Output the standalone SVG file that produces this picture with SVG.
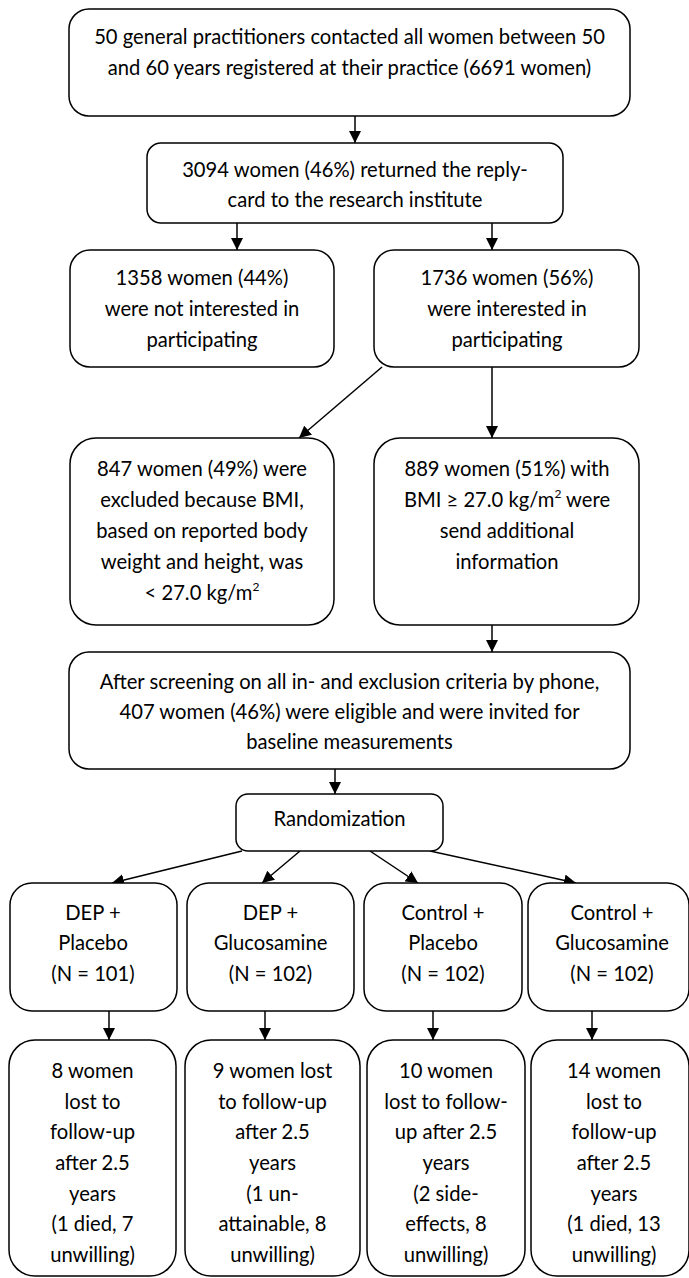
<svg xmlns="http://www.w3.org/2000/svg" width="689" height="1278" viewBox="0 0 689 1278">
<style>
.box{fill:#fff;stroke:#000;stroke-width:1.5}
.t{font-family:Lato,"Open Sans","Liberation Sans",sans-serif;font-size:20.2px;fill:#000;text-anchor:middle}
.c{stroke:#000;stroke-width:1.5;fill:none;marker-end:url(#ah)}
</style>
<defs>
<marker id="ah" markerUnits="userSpaceOnUse" markerWidth="12" markerHeight="12" refX="12" refY="6" orient="auto">
<path d="M0,0 L12,6 L0,12 z" fill="#000"/>
</marker>
</defs>
<rect width="689" height="1278" fill="#fff"/>
<g id="connectors">
<line class="c" x1="355" y1="116" x2="355" y2="143"/>
<line class="c" x1="237" y1="223" x2="237" y2="250"/>
<line class="c" x1="492" y1="223" x2="492" y2="250"/>
<line class="c" x1="382" y1="367" x2="299" y2="438"/>
<line class="c" x1="492" y1="367" x2="492" y2="438"/>
<line class="c" x1="492" y1="625" x2="492" y2="652"/>
<line class="c" x1="335" y1="769" x2="335" y2="794"/>
<line class="c" x1="242" y1="851" x2="112" y2="883"/>
<line class="c" x1="300" y1="851" x2="262" y2="883"/>
<line class="c" x1="370" y1="851" x2="418" y2="883"/>
<line class="c" x1="430" y1="851" x2="576" y2="883"/>
<line class="c" x1="109" y1="1011" x2="109" y2="1040"/>
<line class="c" x1="265" y1="1011" x2="265" y2="1040"/>
<line class="c" x1="433" y1="1011" x2="433" y2="1040"/>
<line class="c" x1="592" y1="1011" x2="592" y2="1040"/>
</g>
<g id="n1"><rect class="box" x="69" y="9" width="561" height="107" rx="20"/>
<text class="t" x="349.5" y="44">50 general practitioners contacted all women between 50</text>
<text class="t" x="349.5" y="75">and 60 years registered at their practice (6691 women)</text></g>
<g id="n2"><rect class="box" x="147" y="143" width="416" height="80" rx="14"/>
<text class="t" x="355" y="177">3094 women (46%) returned the reply-</text>
<text class="t" x="355" y="207">card to the research institute</text></g>
<g id="n3"><rect class="box" x="70" y="250" width="264" height="117" rx="20"/>
<text class="t" x="202" y="285">1358 women (44%)</text>
<text class="t" x="202" y="316">were not interested in</text>
<text class="t" x="202" y="347">participating</text></g>
<g id="n4"><rect class="box" x="374" y="250" width="265" height="117" rx="20"/>
<text class="t" x="507" y="285">1736 women (56%)</text>
<text class="t" x="507" y="316">were interested in</text>
<text class="t" x="507" y="347">participating</text></g>
<g id="n5"><rect class="box" x="70" y="438" width="264" height="187" rx="26"/>
<text class="t" x="202" y="476">847 women (49%) were</text>
<text class="t" x="202" y="507">excluded because BMI,</text>
<text class="t" x="202" y="538">based on reported body</text>
<text class="t" x="202" y="569">weight and height, was</text>
<text class="t" x="202" y="600">&lt; 27.0 kg/m<tspan font-size="12" dy="-9">2</tspan></text></g>
<g id="n6"><rect class="box" x="374" y="438" width="265" height="187" rx="26"/>
<text class="t" x="507" y="476">889 women (51%) with</text>
<text class="t" x="507" y="507">BMI ≥ 27.0 kg/m<tspan font-size="12" dy="-9">2</tspan><tspan dy="9"> were</tspan></text>
<text class="t" x="507" y="538">send additional</text>
<text class="t" x="507" y="569">information</text></g>
<g id="n7"><rect class="box" x="69" y="652" width="561" height="117" rx="20"/>
<text class="t" x="349.5" y="689">After screening on all in- and exclusion criteria by phone,</text>
<text class="t" x="349.5" y="719">407 women (46%) were eligible and were invited for</text>
<text class="t" x="349.5" y="749">baseline measurements</text></g>
<g id="n8"><rect class="box" x="236" y="794" width="207" height="57" rx="12"/>
<text class="t" x="339.5" y="826">Randomization</text></g>
<g id="g1"><rect class="box" x="10" y="883" width="167" height="128" rx="22"/>
<text class="t" x="93" y="920">DEP +</text>
<text class="t" x="93" y="950">Placebo</text>
<text class="t" x="93" y="981">(N = 101)</text></g>
<g id="g2"><rect class="box" x="187" y="883" width="167" height="128" rx="22"/>
<text class="t" x="270.5" y="920">DEP +</text>
<text class="t" x="270.5" y="950">Glucosamine</text>
<text class="t" x="270.5" y="981">(N = 102)</text></g>
<g id="g3"><rect class="box" x="364" y="883" width="158" height="128" rx="22"/>
<text class="t" x="443" y="920">Control +</text>
<text class="t" x="443" y="950">Placebo</text>
<text class="t" x="443" y="981">(N = 102)</text></g>
<g id="g4"><rect class="box" x="528" y="883" width="161" height="128" rx="22"/>
<text class="t" x="612" y="920">Control +</text>
<text class="t" x="612" y="950">Glucosamine</text>
<text class="t" x="612" y="981">(N = 102)</text></g>
<g id="l1"><rect class="box" x="9" y="1040" width="167" height="236" rx="26"/>
<text class="t" x="92.5" y="1078">8 women</text>
<text class="t" x="92.5" y="1109">lost to</text>
<text class="t" x="92.5" y="1139">follow-up</text>
<text class="t" x="92.5" y="1170">after 2.5</text>
<text class="t" x="92.5" y="1201">years</text>
<text class="t" x="92.5" y="1231">(1 died, 7</text>
<text class="t" x="92.5" y="1262">unwilling)</text></g>
<g id="l2"><rect class="box" x="185" y="1040" width="175" height="236" rx="26"/>
<text class="t" x="272.5" y="1078">9 women lost</text>
<text class="t" x="272.5" y="1109">to follow-up</text>
<text class="t" x="272.5" y="1139">after 2.5</text>
<text class="t" x="272.5" y="1170">years</text>
<text class="t" x="272.5" y="1201">(1 un-</text>
<text class="t" x="272.5" y="1231">attainable, 8</text>
<text class="t" x="272.5" y="1262">unwilling)</text></g>
<g id="l3"><rect class="box" x="367" y="1040" width="158" height="236" rx="26"/>
<text class="t" x="446" y="1078">10 women</text>
<text class="t" x="446" y="1109">lost to follow-</text>
<text class="t" x="446" y="1139">up after 2.5</text>
<text class="t" x="446" y="1170">years</text>
<text class="t" x="446" y="1201">(2 side-</text>
<text class="t" x="446" y="1231">effects, 8</text>
<text class="t" x="446" y="1262">unwilling)</text></g>
<g id="l4"><rect class="box" x="531" y="1040" width="158" height="236" rx="26"/>
<text class="t" x="614" y="1078">14 women</text>
<text class="t" x="614" y="1109">lost to</text>
<text class="t" x="614" y="1139">follow-up</text>
<text class="t" x="614" y="1170">after 2.5</text>
<text class="t" x="614" y="1201">years</text>
<text class="t" x="614" y="1231">(1 died, 13</text>
<text class="t" x="614" y="1262">unwilling)</text></g>
</svg>
